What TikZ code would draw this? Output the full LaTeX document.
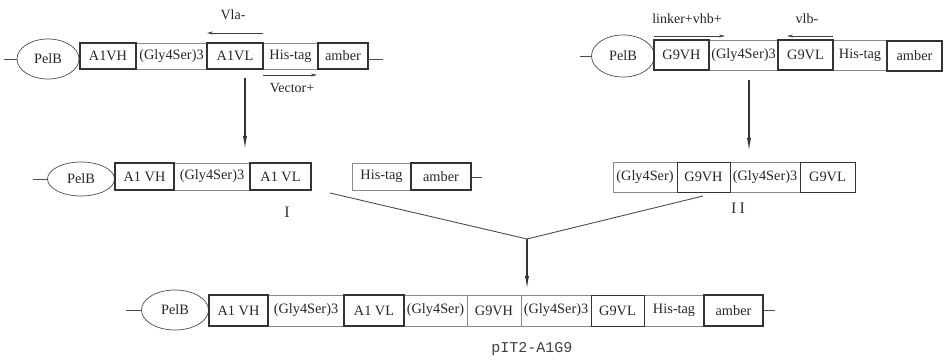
\documentclass[tikz,border=0pt]{standalone}
\usepackage{fontspec}
\setmainfont{Liberation Serif}
\newfontfamily\labmono{Liberation Mono}
\usetikzlibrary{shapes.geometric,arrows.meta}
\definecolor{strongc}{HTML}{333333}
\definecolor{lightc}{HTML}{8A8A8A}
\begin{document}
\begin{tikzpicture}[x=1pt,y=-1pt,
  lbox/.style={draw=lightc,line width=0.7pt,rectangle,inner sep=0pt,font=\fontsize{14.3}{15}\selectfont,text=black!85},
  sbox/.style={draw=strongc,line width=1.2pt,rectangle,inner sep=0pt,font=\fontsize{14.3}{15}\selectfont,text=black!85},
  pel/.style={draw=black!70,line width=0.7pt,ellipse,inner sep=0pt,font=\fontsize{14.3}{15}\selectfont,text=black!85},
  tick/.style={draw=black!70,line width=0.8pt},
  prim/.style={draw=black!75,line width=0.8pt,-{Stealth[length=6pt,width=3pt]}},
  downarr/.style={draw=black!80,line width=1.1pt,-{Latex[length=13pt,width=4pt]}},
  mline/.style={draw=black!70,line width=0.9pt},
  lab/.style={font=\fontsize{14}{15}\selectfont,text=black!85,inner sep=0pt}
]
\useasboundingbox (0,0) rectangle (945,363);

% ---------- Row 1 left ----------
\node[pel,minimum width=62,minimum height=40] (p1) at (48,59) {PelB};
\node[lbox,minimum width=71,minimum height=26] (a1g) at (171.5,56) {(Gly4Ser)3};
\node[lbox,minimum width=55,minimum height=26] (a1h) at (290.5,56) {His-tag};
\node[sbox,minimum width=56,minimum height=26] (a1vh) at (108,56) {A1VH};
\node[sbox,minimum width=56,minimum height=26] (a1vl) at (235,56) {A1VL};
\node[sbox,minimum width=50,minimum height=26] (a1am) at (343,56) {amber};
\coordinate (t1l) at (4,59);
\coordinate (t1r) at (383,59);
\draw[tick] (t1l) -- (p1.west);
\draw[tick] (a1am.east |- t1r) -- (t1r);
\coordinate (vlas) at (263,33);
\coordinate (vlae) at (207,33);
\draw[prim] (vlas) -- (vlae);
\node[lab] (vlat) at (233,15) {Vla-};
\coordinate (vecs) at (263,75);
\coordinate (vece) at (317,75);
\draw[prim] (vecs) -- (vece);
\node[lab] (vect) at (292,88) {Vector+};
\coordinate (d1s) at (245,78);
\coordinate (d1e) at (245,149);
\draw[downarr] (d1s) -- (d1e);

% ---------- Row 1 right ----------
\node[pel,minimum width=63,minimum height=42] (p2) at (623,56) {PelB};
\node[lbox,minimum width=69,minimum height=30] (g1g) at (743.5,55) {(Gly4Ser)3};
\node[lbox,minimum width=54,minimum height=30] (g1h) at (860,55) {His-tag};
\node[sbox,minimum width=55,minimum height=30] (g1vh) at (681.5,55) {G9VH};
\node[sbox,minimum width=55,minimum height=30] (g1vl) at (805.5,55) {G9VL};
\node[sbox,minimum width=55,minimum height=30] (g1am) at (914.5,56) {amber};
\coordinate (t2l) at (580,56);
\draw[tick] (t2l) -- (p2.west);
\coordinate (lks) at (654,36);
\coordinate (lke) at (725,36);
\draw[prim] (lks) -- (lke);
\node[lab] (lkt) at (687,19) {linker+vhb+};
\coordinate (vlbs) at (833,36);
\coordinate (vlbe) at (787,36);
\draw[prim] (vlbs) -- (vlbe);
\node[lab] (vlbt) at (807,19) {vlb-};
\coordinate (d2s) at (749,80);
\coordinate (d2e) at (749,151);
\draw[downarr] (d2s) -- (d2e);

% ---------- Row 2 left ----------
\node[pel,minimum width=67,minimum height=34] (p3) at (81,179) {PelB};
\node[lbox,minimum width=76,minimum height=27] (b1g) at (212,176.5) {(Gly4Ser)3};
\node[lbox,minimum width=59,minimum height=27] (b1h) at (381.5,176.5) {His-tag};
\node[sbox,minimum width=59,minimum height=27] (b1vh) at (144.5,176.5) {A1 VH};
\node[sbox,minimum width=61,minimum height=27] (b1vl) at (280.5,176.5) {A1 VL};
\node[sbox,minimum width=60,minimum height=27] (b1am) at (441,176.5) {amber};
\coordinate (t3l) at (33,179);
\coordinate (t3r) at (482,177);
\draw[tick] (t3l) -- (p3.west);
\draw[tick] (b1am.east |- t3r) -- (t3r);
\node[font=\fontsize{16}{16}\selectfont,text=black!80,inner sep=0pt] (lI) at (287,212) {I};

% ---------- Row 2 right ----------
\node[lbox,minimum width=64,minimum height=30] (b2g1) at (645,177) {(Gly4Ser)};
\node[lbox,minimum width=70,minimum height=30] (b2g3) at (765,177) {(Gly4Ser)3};
\node[sbox,line width=0.9pt,minimum width=53,minimum height=30] (b2vh) at (703.5,177) {G9VH};
\node[sbox,line width=0.9pt,minimum width=55,minimum height=30] (b2vl) at (827.5,177) {G9VL};
\node[font=\fontsize{16}{16}\selectfont,text=black!80,inner sep=0pt] (lII) at (738,208) {I\hspace{3pt}I};

% ---------- merge ----------
\coordinate (m1) at (330,193);
\coordinate (m2) at (703,196);
\coordinate (mp) at (527,239);
\coordinate (me) at (527,289);
\draw[mline] (m1) -- (mp) -- (m2);
\draw[downarr] (mp) -- (me);

% ---------- Row 3 ----------
\node[pel,minimum width=67,minimum height=40] (p4) at (175,310) {PelB};
\node[lbox,minimum width=76,minimum height=31] (c1g) at (306,310.5) {(Gly4Ser)3};
\node[lbox,minimum width=63,minimum height=31] (c1l) at (435.5,310.5) {(Gly4Ser)};
\node[lbox,minimum width=54,minimum height=31] (c1vh2) at (494,310.5) {G9VH};
\node[lbox,minimum width=70,minimum height=31] (c1g2) at (556,310.5) {(Gly4Ser)3};
\node[lbox,minimum width=60,minimum height=31] (c1h) at (674,310.5) {His-tag};
\node[sbox,minimum width=59,minimum height=31] (c1vh) at (238.5,310.5) {A1 VH};
\node[sbox,minimum width=60,minimum height=31] (c1vl) at (374,310.5) {A1 VL};
\node[sbox,line width=0.9pt,minimum width=53,minimum height=31] (c1vl2) at (617.5,310.5) {G9VL};
\node[sbox,minimum width=59,minimum height=31] (c1am) at (733.5,310.5) {amber};
\coordinate (t4l) at (126,310);
\coordinate (t4r) at (775,310);
\draw[tick] (t4l) -- (p4.west);
\draw[tick] (c1am.east |- t4r) -- (t4r);
\node[font=\labmono\fontsize{15}{15}\selectfont,text=black!75,inner sep=0pt] (name) at (532,349) {pIT2-A1G9};
\end{tikzpicture}
\end{document}
